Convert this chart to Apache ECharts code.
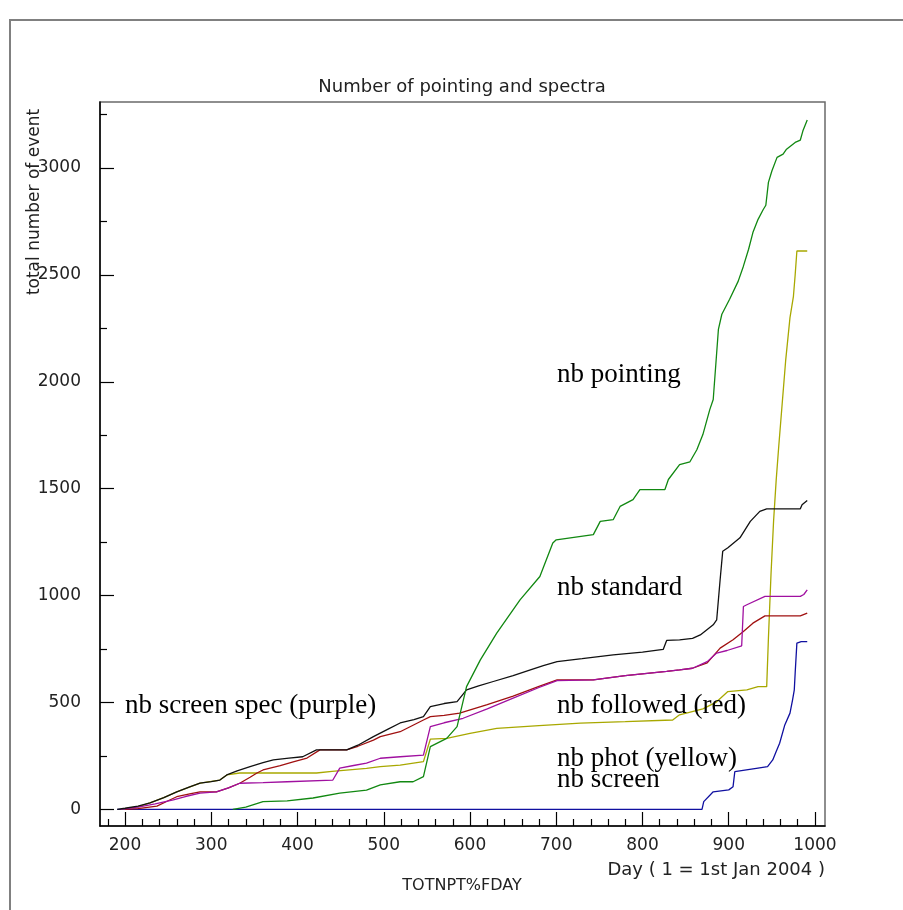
<!DOCTYPE html>
<html>
<head>
<meta charset="utf-8">
<script src="https://cdn.jsdelivr.net/npm/echarts@6/dist/echarts.min.js"></script>
<style>html,body{margin:0;padding:0;background:#fff;}#c{width:903px;height:910px;}</style>
</head>
<body>
<div id="c"></div>
<script>
// ---- data (day, cumulative count) ----
const pointing = [[325,0],[340,10],[360,36],[388,40],[418,53],[449,76],[480,90],[496,114],[519,129],[534,129],[546,153],[554,293],[573,332],[585,387],[596,574],[612,699],[631,824],[658,980],[681,1089],[696,1246],[700,1261],[743,1285],[751,1347],[766,1355],[774,1417],[789,1449],[797,1496],[826,1496],[830,1543],[843,1613],[855,1626],[863,1682],[870,1753],[878,1870],[882,1917],[888,2245],[892,2316],[901,2386],[911,2471],[917,2541],[923,2620],[928,2698],[934,2760],[940,2806],[943,2826],[946,2933],[950,2986],[956,3050],[963,3065],[967,3088],[977,3120],[983,3131],[986,3174],[991,3225]];
const standard = [[191,0],[200,5],[215,15],[229,30],[245,55],[260,82],[275,105],[287,123],[300,130],[310,137],[318,161],[330,180],[345,200],[360,218],[372,231],[390,240],[406,246],[422,278],[457,278],[470,300],[488,340],[505,375],[519,404],[535,420],[546,434],[554,480],[570,495],[585,504],[596,559],[610,578],[627,598],[650,625],[670,652],[685,672],[701,691],[730,705],[766,723],[800,735],[824,748],[828,790],[843,793],[858,800],[867,816],[882,863],[886,886],[890,1074],[893,1207],[899,1224],[913,1270],[925,1347],[936,1394],[944,1406],[983,1406],[985,1425],[991,1445]];
const screenSpec = [[195,0],[215,10],[235,25],[256,44],[270,60],[287,76],[306,82],[320,100],[333,122],[360,125],[388,129],[441,137],[449,193],[465,205],[480,216],[496,239],[519,246],[546,254],[554,387],[570,405],[592,426],[620,470],[650,520],[680,570],[701,602],[743,606],[780,625],[828,645],[843,652],[858,660],[875,691],[886,731],[898,743],[915,765],[917,949],[921,957],[942,996],[983,996],[987,1005],[991,1027]];
const followed = [[200,0],[215,3],[237,15],[250,40],[260,59],[275,72],[287,82],[306,82],[320,100],[333,122],[345,150],[353,170],[360,184],[380,205],[395,222],[411,240],[426,278],[457,278],[470,295],[488,324],[496,340],[519,363],[546,418],[554,434],[570,440],[588,450],[620,490],[650,530],[680,575],[701,606],[743,606],[780,625],[828,645],[843,652],[858,660],[875,685],[890,754],[905,793],[917,832],[928,871],[942,905],[983,905],[991,918]];
const phot = [[195,0],[215,12],[229,30],[245,55],[260,82],[287,123],[310,137],[318,161],[333,170],[422,170],[440,178],[480,192],[496,200],[519,207],[546,223],[554,328],[573,332],[600,355],[631,379],[680,392],[728,403],[780,410],[835,418],[843,442],[870,470],[885,500],[899,551],[921,559],[934,574],[944,574],[946,800],[949,1100],[952,1350],[955,1540],[958,1700],[962,1900],[966,2100],[971,2300],[975,2400],[977,2500],[979,2612],[991,2612]];
const screen = [[191,0],[869,0],[871,36],[882,82],[900,91],[905,106],[907,176],[932,192],[945,200],[951,231],[955,270],[959,309],[965,395],[971,450],[974,512],[976,559],[977,637],[979,778],[984,785],[991,785]];

const xMajor = [200,300,400,500,600,700,800,900,1000];
const xMinor = [180,220,240,260,280,320,340,360,380,420,440,460,480,520,540,560,580,620,640,660,680,720,740,760,780,820,840,860,880,920,940,960,980];
const yMajor = [0,500,1000,1500,2000,2500,3000];
const yMinor = [250,750,1250,1750,2250,2750,3250];

const titleText = 'Number of pointing and spectra';
const yTitle = 'total number of event';
const xTitle = 'Day ( 1 = 1st Jan 2004 )';
const subTitle = 'TOTNPT%FDAY';
const notes = [
  ['nb pointing', 557, 375],
  ['nb standard', 557, 588],
  ['nb screen spec (purple)', 125, 706],
  ['nb followed (red)', 557, 706],
  ['nb phot (yellow)', 557, 759],
  ['nb screen', 557, 780]
];

const sans = 'DejaVu Sans';
const chart = echarts.init(document.getElementById('c'));
function mk(name, data, color){
  return {name, type:'line', data, xAxisIndex:0, yAxisIndex:0, showSymbol:false, symbol:'none',
    lineStyle:{color, width:1.3}, silent:true, z:3};
}
const plain = v => String(v);
const graphics = [
  {type:'rect', shape:{x:10,y:20,width:1000,height:1000}, style:{fill:null, stroke:'#808080', lineWidth:2}, silent:true},
  {type:'text', x:462, y:87, style:{text:titleText, font:'18px "'+sans+'"', fill:'#222', textAlign:'center', textVerticalAlign:'middle'}},
  {type:'text', x:825, y:870, style:{text:xTitle, font:'18px "'+sans+'"', fill:'#222', textAlign:'right', textVerticalAlign:'middle'}},
  {type:'text', x:462, y:886, style:{text:subTitle, font:'16px "'+sans+'"', fill:'#222', textAlign:'center', textVerticalAlign:'middle'}},
  {type:'text', x:35, y:202, rotation:Math.PI/2, style:{text:yTitle, font:'17px "'+sans+'"', fill:'#222', textAlign:'center', textVerticalAlign:'middle'}}
];
notes.forEach(n => graphics.push({type:'text', x:n[1], y:n[2], z:10,
  style:{text:n[0], font:'27px "Liberation Serif"', fill:'#000', textAlign:'left', textVerticalAlign:'middle'}}));

chart.setOption({
  animation:false,
  backgroundColor:'#fff',
  grid:{left:100, top:102, width:725, height:724, show:true, borderColor:'#6a6a6a', borderWidth:1.5, backgroundColor:'transparent'},
  xAxis:[
    {type:'value', min:171, max:1011.6, position:'bottom',
     axisLine:{show:true, onZero:false, lineStyle:{color:'#000', width:1.5}},
     axisTick:{show:true, inside:true, length:14, customValues:xMajor, lineStyle:{color:'#000', width:1.2}},
     axisLabel:{show:true, customValues:xMajor, formatter:plain, margin:11, color:'#222', fontSize:17, fontFamily:sans},
     splitLine:{show:false}},
    {type:'value', min:171, max:1011.6, position:'bottom',
     axisLine:{show:false, onZero:false}, axisLabel:{show:false}, splitLine:{show:false},
     axisTick:{show:true, inside:true, length:7, customValues:xMinor, lineStyle:{color:'#000', width:1.2}}}
  ],
  yAxis:[
    {type:'value', min:-78, max:3309, position:'left',
     axisLine:{show:true, onZero:false, lineStyle:{color:'#000', width:1.5}},
     axisTick:{show:true, inside:true, length:14, customValues:yMajor, lineStyle:{color:'#000', width:1.2}},
     axisLabel:{show:true, customValues:yMajor, formatter:plain, margin:19, color:'#222', fontSize:17, fontFamily:sans},
     splitLine:{show:false}},
    {type:'value', min:-78, max:3309, position:'left',
     axisLine:{show:false, onZero:false}, axisLabel:{show:false}, splitLine:{show:false},
     axisTick:{show:true, inside:true, length:7, customValues:yMinor, lineStyle:{color:'#000', width:1.2}}}
  ],
  series:[
    mk('nb screen', screen, '#1010a0'),
    mk('nb phot', phot, '#a8a800'),
    mk('nb followed', followed, '#a01010'),
    mk('nb screen spec', screenSpec, '#a010a0'),
    mk('nb standard', standard, '#111111'),
    mk('nb pointing', pointing, '#118811')
  ],
  graphic:graphics
});
</script>
</body>
</html>
